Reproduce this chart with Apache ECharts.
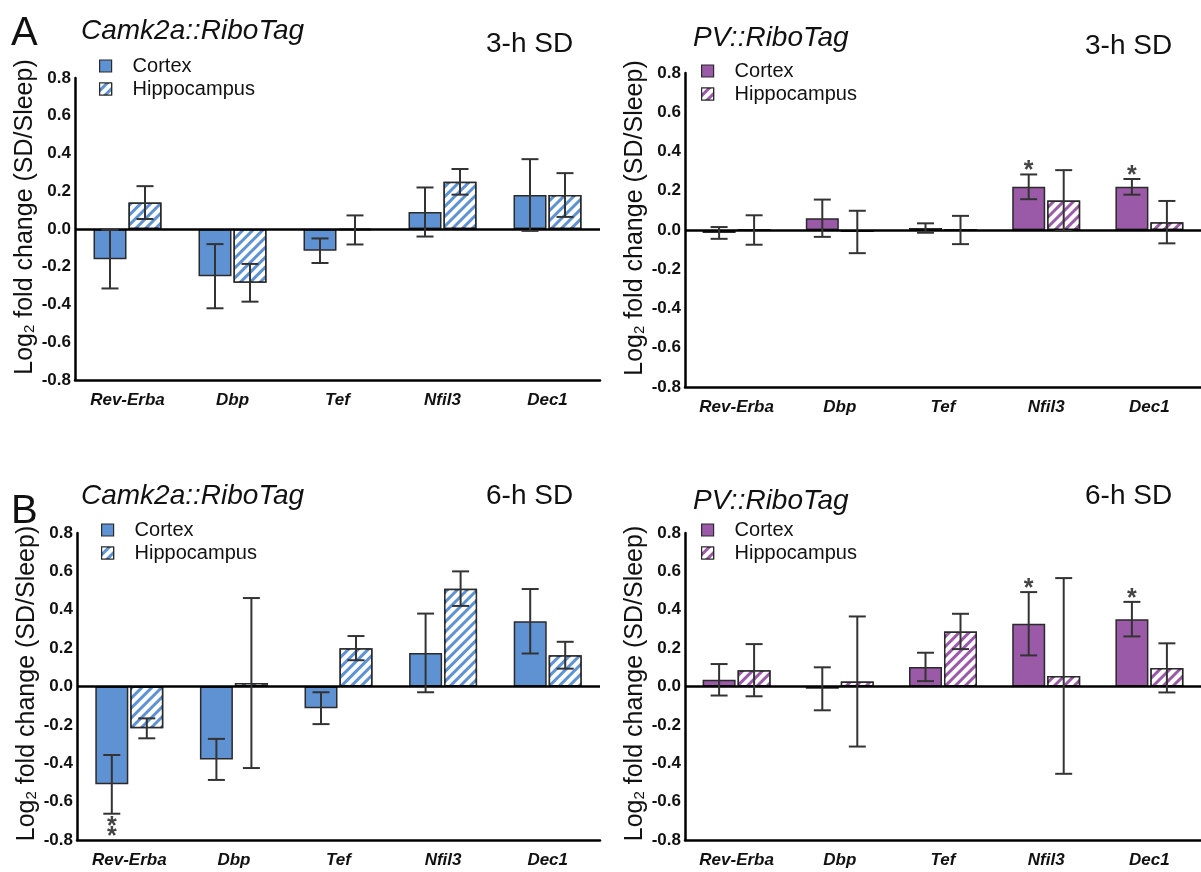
<!DOCTYPE html>
<html>
<head>
<meta charset="utf-8">
<script src="https://cdn.jsdelivr.net/npm/echarts@6/dist/echarts.min.js"></script>
<style>
  html, body { margin: 0; padding: 0; background: #ffffff; }
  #chart { width: 1201px; height: 872px; }
</style>
</head>
<body>
<div id="chart"></div>
<script>
// ---------------- DATA ----------------
const categories = ['Rev-Erba', 'Dbp', 'Tef', 'Nfil3', 'Dec1'];
const yMin = -0.8, yMax = 0.8, yStep = 0.2;

// A: 3-h SD, Camk2a::RiboTag
const camk3hCortex      = [-0.16, -0.25, -0.115, 0.09, 0.18];
const camk3hCortexSE    = [0.155, 0.17, 0.065, 0.13, 0.19];
const camk3hHippo       = [0.14, -0.285, -0.005, 0.25, 0.18];
const camk3hHippoSE     = [0.087, 0.10, 0.077, 0.068, 0.116];
const camk3hCortexSig   = ['', '', '', '', ''];

// A: 3-h SD, PV::RiboTag
const pv3hCortex        = [-0.015, 0.06, 0.01, 0.22, 0.22];
const pv3hCortexSE      = [0.03, 0.095, 0.024, 0.063, 0.04];
const pv3hHippo         = [0.0, -0.01, 0.0, 0.15, 0.04];
const pv3hHippoSE       = [0.075, 0.108, 0.072, 0.155, 0.108];
const pv3hCortexSig     = ['', '', '', '*', '*'];

// B: 6-h SD, Camk2a::RiboTag
const camk6hCortex      = [-0.51, -0.38, -0.113, 0.175, 0.34];
const camk6hCortexSE    = [0.153, 0.107, 0.083, 0.205, 0.168];
const camk6hHippo       = [-0.218, 0.018, 0.20, 0.51, 0.163];
const camk6hHippoSE     = [0.052, 0.443, 0.063, 0.09, 0.07];
const camk6hCortexSig   = ['**', '', '', '', ''];

// B: 6-h SD, PV::RiboTag
const pv6hCortex        = [0.035, -0.012, 0.102, 0.327, 0.351];
const pv6hCortexSE      = [0.082, 0.112, 0.074, 0.165, 0.09];
const pv6hHippo         = [0.085, 0.026, 0.287, 0.055, 0.097];
const pv6hHippoSE       = [0.136, 0.339, 0.092, 0.51, 0.128];
const pv6hCortexSig     = ['', '', '', '*', '*'];

const legendNames = ['Cortex', 'Hippocampus'];

// ---------------- STYLE ----------------
const BLUE = '#5E92D2';
const PURPLE = '#9B5AA8';
const BORDER = '#2a2a2a';
const ERR = '#333333';
const BAR_W = 33;
const BAR_GAP_PX = 2;
const SANS = "'Liberation Sans', Arial, sans-serif";
const NARROW = "'Liberation Sans Narrow', 'Liberation Sans', Arial, sans-serif";

const hatch = {
  symbol: 'rect', symbolSize: 1,
  dashArrayX: [1, 0], dashArrayY: [4, 3],
  rotation: -Math.PI / 4, color: '#ffffff'
};

const panels = [
  { grid: { left: 75, top: 78, width: 525, height: 302 }, color: BLUE, prefix: '', nameShift: 24,
    cortex: camk3hCortex, cortexSE: camk3hCortexSE, hippo: camk3hHippo, hippoSE: camk3hHippoSE, sig: camk3hCortexSig },
  { grid: { left: 685, top: 73, width: 518, height: 314 }, color: PURPLE, prefix: 'PV ', nameShift: 24,
    cortex: pv3hCortex, cortexSE: pv3hCortexSE, hippo: pv3hHippo, hippoSE: pv3hHippoSE, sig: pv3hCortexSig },
  { grid: { left: 77, top: 533, width: 523, height: 307 }, color: BLUE, prefix: '', nameShift: 6,
    cortex: camk6hCortex, cortexSE: camk6hCortexSE, hippo: camk6hHippo, hippoSE: camk6hHippoSE, sig: camk6hCortexSig },
  { grid: { left: 685, top: 533, width: 518, height: 307 }, color: PURPLE, prefix: 'PV ', nameShift: 6,
    cortex: pv6hCortex, cortexSE: pv6hCortexSE, hippo: pv6hHippo, hippoSE: pv6hHippoSE, sig: pv6hCortexSig }
];

const grids = [], xAxes = [], yAxes = [], series = [];

function errSeries(i, means, ses, sigs, offset) {
  return {
    type: 'custom', xAxisIndex: i, yAxisIndex: i, z: 5, silent: true,
    data: means.map((m, k) => [k, m, ses[k]]),
    renderItem: function (params, api) {
      const cat = api.value(0), m = api.value(1), s = api.value(2);
      const top = api.coord([cat, m + s]);
      const bot = api.coord([cat, m - s]);
      const x = top[0] + offset;
      const cap = 8.5;
      const ls = { stroke: ERR, lineWidth: 2 };
      const children = [
        { type: 'line', shape: { x1: x, y1: top[1], x2: x, y2: bot[1] }, style: ls },
        { type: 'line', shape: { x1: x - cap, y1: top[1], x2: x + cap, y2: top[1] }, style: ls },
        { type: 'line', shape: { x1: x - cap, y1: bot[1], x2: x + cap, y2: bot[1] }, style: ls }
      ];
      const sig = sigs ? sigs[params.dataIndex] : '';
      for (let j = 0; j < sig.length; j++) {
        const y = m < 0 ? bot[1] + 13 + j * 10 : top[1] - 3 - j * 10;
        children.push({
          type: 'text',
          style: { x: x, y: y, text: '*', fill: '#444', font: 'bold 25px ' + SANS, align: 'center', verticalAlign: 'middle' }
        });
      }
      return { type: 'group', children: children };
    }
  };
}

panels.forEach((p, i) => {
  grids.push(p.grid);
  xAxes.push({
    type: 'category', gridIndex: i, data: categories, position: 'bottom',
    axisLine: { onZero: false, lineStyle: { color: '#000', width: 2.5 } },
    axisTick: { show: false },
    axisLabel: { interval: 0, margin: 12, color: '#111', fontFamily: NARROW, fontWeight: 'bold', fontStyle: 'italic', fontSize: 17 },
    splitLine: { show: false }
  });
  yAxes.push({
    type: 'value', gridIndex: i, min: yMin, max: yMax, interval: yStep,
    axisLine: { show: true, lineStyle: { color: '#000', width: 2.5 } },
    axisTick: { show: false },
    splitLine: { show: false },
    axisLabel: { margin: 4, color: '#111', fontFamily: NARROW, fontWeight: 'bold', fontSize: 17,
                 formatter: v => v.toFixed(1) },
    name: '{a|Log}{b|2}{a| fold change (SD/Sleep)}',
    nameLocation: 'middle', nameGap: 34,
    nameTextStyle: {
      padding: [0, 0, 0, p.nameShift],
      rich: {
        a: { fontSize: 25, fontFamily: SANS, color: '#111', lineHeight: 26 },
        b: { fontSize: 15, fontFamily: SANS, color: '#111', lineHeight: 26, verticalAlign: 'bottom' }
      }
    }
  });
  series.push({
    type: 'bar', name: p.prefix + legendNames[0], xAxisIndex: i, yAxisIndex: i,
    data: p.cortex, barWidth: BAR_W, barGap: '6%',
    itemStyle: { color: p.color, borderColor: BORDER, borderWidth: 1.5 },
    markLine: {
      silent: true, symbol: 'none', label: { show: false },
      lineStyle: { color: '#000', width: 2.5, type: 'solid' },
      data: [{ yAxis: 0 }], z: 4
    }
  });
  series.push({
    type: 'bar', name: p.prefix + legendNames[1], xAxisIndex: i, yAxisIndex: i,
    data: p.hippo, barWidth: BAR_W, barGap: '6%',
    itemStyle: { color: p.color, borderColor: BORDER, borderWidth: 1.5, decal: hatch }
  });
  const off = BAR_W / 2 + BAR_GAP_PX / 2;
  series.push(errSeries(i, p.cortex, p.cortexSE, p.sig, -off));
  series.push(errSeries(i, p.hippo, p.hippoSE, null, off));
});

function legend(left, top, purple) {
  return {
    orient: 'vertical', left: left, top: top, padding: 0, itemGap: 3,
    itemWidth: 12, itemHeight: 12, icon: 'rect', selectedMode: false,
    data: legendNames.map(n => (purple ? 'PV ' : '') + n),
    formatter: n => n.replace('PV ', ''),
    itemStyle: { borderColor: BORDER, borderWidth: 1.2 },
    textStyle: { fontSize: 20, fontFamily: SANS, color: '#111', padding: [0, 0, 0, 16] }
  };
}

const titleFont = { fontFamily: SANS, fontWeight: 'normal', color: '#111', fontSize: 28 };
function t(text, left, top, extra) {
  return { text: text, left: left, top: top, padding: 0,
           textStyle: Object.assign({}, titleFont, extra || {}) };
}

const option = {
  backgroundColor: '#ffffff',
  animation: false,
  title: [
    t('A', 11, 14, { fontSize: 40 }),
    t('B', 11, 492, { fontSize: 40 }),
    t('Camk2a::RiboTag', 81, 17, { fontStyle: 'italic' }),
    t('3-h SD', 486, 30),
    t('PV::RiboTag', 693, 24, { fontStyle: 'italic' }),
    t('3-h SD', 1085, 32),
    t('Camk2a::RiboTag', 81, 482, { fontStyle: 'italic' }),
    t('6-h SD', 486, 482),
    t('PV::RiboTag', 693, 487, { fontStyle: 'italic' }),
    t('6-h SD', 1085, 482)
  ],
  legend: [
    legend(99, 56, false),
    legend(701, 61, true),
    legend(101, 520, false),
    legend(701, 520, true)
  ],
  grid: grids,
  xAxis: xAxes,
  yAxis: yAxes,
  series: series
};

const chart = echarts.init(document.getElementById('chart'), null, { renderer: 'canvas' });
chart.setOption(option);
</script>
</body>
</html>
